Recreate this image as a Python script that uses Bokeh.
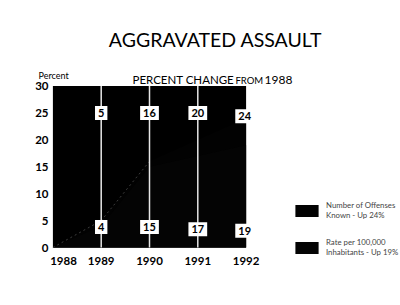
from bokeh.plotting import figure
from bokeh.models import (Label, Range1d, FixedTicker, Legend, LegendItem)
from bokeh.embed import file_html
from bokeh.resources import INLINE

# ---- data ----
years = [1988, 1989, 1990, 1991, 1992]
offenses_pct = [0, 5, 16, 20, 24]      # Number of Offenses Known - Up 24%
rate_pct = [0, 4, 15, 17, 19]          # Rate per 100,000 Inhabitants - Up 19%
y_ticks = [0, 5, 10, 15, 20, 25, 30]
x_tick_labels = ["1988", "1989", "1990", "1991", "1992"]
title_text = "AGGRAVATED ASSAULT"
legend_labels = ["Number of Offenses\nKnown - Up 24%", "Rate per 100,000\nInhabitants - Up 19%"]

FONT = "Lato"
W, H = 400, 305
# layout (pixels): frame spans most of the canvas so that texts are not clipped
FL, FB = 30, 258            # frame left edge, frame bottom edge (from top)
PX0, PX1 = 52.4, 245.6      # pixel x of first / last year
PY0, PY30 = 247.0, 85.5     # pixel y of 0 and 30 percent
sx = (PX1 - PX0) / (years[-1] - years[0])
sy = (PY0 - PY30) / (y_ticks[-1] - y_ticks[0])
x_range = Range1d(years[0] - (PX0 - FL) / sx, years[-1] + (W - PX1) / sx)
y_range = Range1d(-(FB - PY0) / sy, y_ticks[-1] + PY30 / sy)

p = figure(width=W, height=H, output_backend="svg", toolbar_location=None,
           x_range=x_range, y_range=y_range,
           min_border_left=FL, min_border_right=0, min_border_top=0,
           min_border_bottom=H - FB, title=None)
p.outline_line_color = None
p.background_fill_color = "white"
p.border_fill_color = "white"
p.grid.grid_line_color = None

# plot-area panel (black), from the data extents
p.quad(left=[years[0]], right=[years[-1]], bottom=[y_ticks[0]], top=[y_ticks[-1]],
       fill_color="black", line_color=None)

# areas
r_off = p.varea(x=years, y1=0, y2=offenses_pct, fill_color="#020202")
r_rate = p.varea(x=years, y1=0, y2=rate_pct, fill_color="#040404")
p.line(years[:3], offenses_pct[:3], line_color="#3c3c3c", line_width=1, line_dash="2 3")

# white vertical year lines
p.segment(x0=years[1:4], y0=[y_ticks[0]] * 3, x1=years[1:4], y1=[y_ticks[-1]] * 3,
          line_color="#e6e6e6", line_width=1.5)

# axes
p.yaxis.ticker = FixedTicker(ticks=y_ticks)
p.yaxis.axis_line_color = None
p.yaxis.major_tick_line_color = None
p.yaxis.minor_tick_line_color = None
p.yaxis.major_label_standoff = -24
p.yaxis.major_label_text_font = FONT
p.yaxis.major_label_text_font_style = "bold"
p.yaxis.major_label_text_font_size = "11.5px"
p.yaxis.major_label_text_color = "black"

x_tick_pos = [1988.22] + years[1:]
p.xaxis.ticker = FixedTicker(ticks=x_tick_pos)
p.xaxis.major_label_overrides = {t: s for t, s in zip(x_tick_pos, x_tick_labels)}
p.xaxis.axis_line_color = None
p.xaxis.major_tick_line_color = None
p.xaxis.minor_tick_line_color = None
p.xaxis.major_label_standoff = -8
p.xaxis.major_label_text_font = FONT
p.xaxis.major_label_text_font_style = "bold"
p.xaxis.major_label_text_font_size = "11.5px"
p.xaxis.major_label_text_color = "black"

# value boxes
box_x = [1989, 1990, 1991, 1991.97]
top_y = [25, 25, 25, 24.4]
bot_y = [3.8, 3.8, 3.4, 3.1]
for xs, ys, vals in ((box_x, top_y, offenses_pct[1:]), (box_x, bot_y, rate_pct[1:])):
    for xv, yv, v in zip(xs, ys, vals):
        p.add_layout(Label(x=xv, y=yv, text=str(v), text_align="center",
                           text_baseline="middle", text_font=FONT, text_font_style="bold",
                           text_font_size="11px", text_color="black",
                           background_fill_color="white", padding=3))

def lab(cx, cy, text, size, align="left", style="normal"):
    p.add_layout(Label(x=cx - FL, y=FB - cy, x_units="screen", y_units="screen", text=text,
                       text_align=align, text_baseline="middle", text_font=FONT,
                       text_font_size=size, text_font_style=style, text_color="black"))

lab(215, 39, title_text, "19.5px", align="center")
lab(132, 79, "PERCENT CHANGE", "11.5px")
lab(235, 79.5, "FROM", "9.5px")
lab(264, 79, "1988", "12px")
lab(38, 75, "Percent", "9px")

legend = Legend(items=[LegendItem(label=legend_labels[0], renderers=[r_off]),
                       LegendItem(label=legend_labels[1], renderers=[r_rate])],
                location=(292 - FL, FB - 257), orientation="vertical",
                glyph_width=29, glyph_height=15, padding=0, margin=0, spacing=17,
                label_standoff=5, label_text_font=FONT, label_text_font_size="7.8px",
                label_text_line_height=1.05,
                background_fill_alpha=0, border_line_color=None)
p.add_layout(legend)

open("out.html", "w").write(file_html(p, INLINE))
